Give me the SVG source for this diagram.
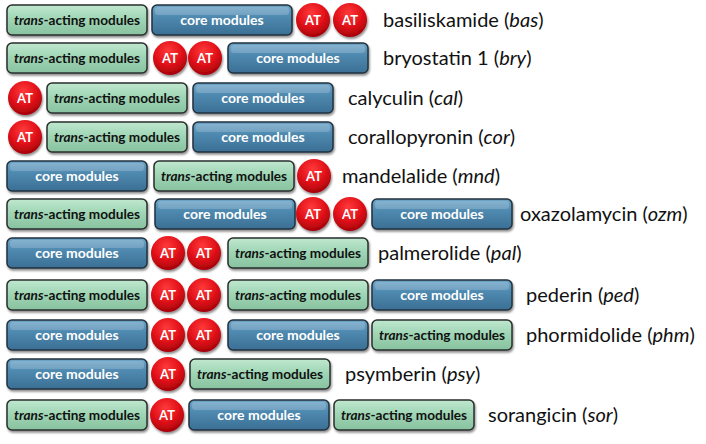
<svg xmlns="http://www.w3.org/2000/svg" width="706" height="444" viewBox="0 0 706 444">
<defs>
<linearGradient id="gGreen" x1="0" y1="0" x2="0" y2="1">
<stop offset="0" stop-color="#c0e8cf"/>
<stop offset="0.45" stop-color="#a0d6b6"/>
<stop offset="1" stop-color="#88c29f"/>
</linearGradient>
<linearGradient id="gBlue" x1="0" y1="0" x2="0" y2="1">
<stop offset="0" stop-color="#6fa6c8"/>
<stop offset="0.4" stop-color="#4f89b0"/>
<stop offset="1" stop-color="#3b6f94"/>
</linearGradient>
<radialGradient id="gRed" cx="0.45" cy="0.3" r="0.75">
<stop offset="0" stop-color="#ff3a3a"/>
<stop offset="0.55" stop-color="#e01018"/>
<stop offset="1" stop-color="#9a0008"/>
</radialGradient>
<filter id="sh" x="-10%" y="-20%" width="125%" height="160%">
<feDropShadow dx="1" dy="2" stdDeviation="1.3" flood-color="#000" flood-opacity="0.45"/>
</filter>
</defs>
<style>
.tr{fill:url(#gGreen);stroke:#2a2f2c;stroke-width:1.5;filter:url(#sh)}
.co{fill:url(#gBlue);stroke:#22323e;stroke-width:1.5;filter:url(#sh)}
.hl{fill:#ffffff;opacity:0.18}
.at{fill:url(#gRed);filter:url(#sh)}
.tt{font-family:Lato,"Liberation Sans",sans-serif;font-weight:bold;font-size:13.6px;fill:#111;text-anchor:middle}
.ct{font-family:Lato,"Liberation Sans",sans-serif;font-weight:bold;font-size:14px;fill:#ffffff;text-anchor:middle}
.att{font-family:Lato,"Liberation Sans",sans-serif;font-weight:bold;font-size:13px;fill:#ffffff;text-anchor:middle}
.lb{font-family:Lato,"Liberation Sans",sans-serif;font-size:20px;fill:#111}
.i{font-style:italic}
</style>

<!-- Row 1 -->
<g id="bas-trans" transform="translate(7,5)"><rect class="tr" width="140" height="30" rx="5"/><text class="tt" x="70" y="20"><tspan class="i">trans</tspan>-acting modules</text></g>
<g id="bas-core" transform="translate(152,5)"><rect class="co" width="140" height="30" rx="5"/><rect class="hl" x="3" y="2" width="134" height="8" rx="3"/><text class="ct" x="70" y="20">core modules</text></g>
<g id="bas-at1"><circle class="at" cx="313" cy="20" r="17"/><text class="att" x="313" y="25">AT</text></g>
<g id="bas-at2"><circle class="at" cx="350" cy="20" r="17"/><text class="att" x="350" y="25">AT</text></g>
<g id="bas-label"><text class="lb" x="383" y="27">basiliskamide (<tspan class="i">bas</tspan>)</text></g>

<!-- Row 2 -->
<g id="bry-trans" transform="translate(7,43)"><rect class="tr" width="140" height="30" rx="5"/><text class="tt" x="70" y="20"><tspan class="i">trans</tspan>-acting modules</text></g>
<g id="bry-at1"><circle class="at" cx="170" cy="58" r="17"/><text class="att" x="170" y="63">AT</text></g>
<g id="bry-at2"><circle class="at" cx="205" cy="58" r="17"/><text class="att" x="205" y="63">AT</text></g>
<g id="bry-core" transform="translate(228,43)"><rect class="co" width="140" height="30" rx="5"/><rect class="hl" x="3" y="2" width="134" height="8" rx="3"/><text class="ct" x="70" y="20">core modules</text></g>
<g id="bry-label"><text class="lb" x="383" y="65">bryostatin 1 (<tspan class="i">bry</tspan>)</text></g>

<!-- Row 3 -->
<g id="cal-at"><circle class="at" cx="25" cy="98" r="17"/><text class="att" x="25" y="103">AT</text></g>
<g id="cal-trans" transform="translate(47,83)"><rect class="tr" width="140" height="30" rx="5"/><text class="tt" x="70" y="20"><tspan class="i">trans</tspan>-acting modules</text></g>
<g id="cal-core" transform="translate(193,83)"><rect class="co" width="140" height="30" rx="5"/><rect class="hl" x="3" y="2" width="134" height="8" rx="3"/><text class="ct" x="70" y="20">core modules</text></g>
<g id="cal-label"><text class="lb" x="348" y="105">calyculin (<tspan class="i">cal</tspan>)</text></g>

<!-- Row 4 -->
<g id="cor-at"><circle class="at" cx="25" cy="137" r="17"/><text class="att" x="25" y="142">AT</text></g>
<g id="cor-trans" transform="translate(47,122)"><rect class="tr" width="140" height="30" rx="5"/><text class="tt" x="70" y="20"><tspan class="i">trans</tspan>-acting modules</text></g>
<g id="cor-core" transform="translate(193,122)"><rect class="co" width="140" height="30" rx="5"/><rect class="hl" x="3" y="2" width="134" height="8" rx="3"/><text class="ct" x="70" y="20">core modules</text></g>
<g id="cor-label"><text class="lb" x="348" y="144">corallopyronin (<tspan class="i">cor</tspan>)</text></g>

<!-- Row 5 -->
<g id="mnd-core" transform="translate(7,161)"><rect class="co" width="140" height="30" rx="5"/><rect class="hl" x="3" y="2" width="134" height="8" rx="3"/><text class="ct" x="70" y="20">core modules</text></g>
<g id="mnd-trans" transform="translate(154,161)"><rect class="tr" width="140" height="30" rx="5"/><text class="tt" x="70" y="20"><tspan class="i">trans</tspan>-acting modules</text></g>
<g id="mnd-at"><circle class="at" cx="314" cy="176" r="17"/><text class="att" x="314" y="181">AT</text></g>
<g id="mnd-label"><text class="lb" x="342" y="183">mandelalide (<tspan class="i">mnd</tspan>)</text></g>

<!-- Row 6 -->
<g id="ozm-trans" transform="translate(7,199)"><rect class="tr" width="140" height="30" rx="5"/><text class="tt" x="70" y="20"><tspan class="i">trans</tspan>-acting modules</text></g>
<g id="ozm-core1" transform="translate(155,199)"><rect class="co" width="140" height="30" rx="5"/><rect class="hl" x="3" y="2" width="134" height="8" rx="3"/><text class="ct" x="70" y="20">core modules</text></g>
<g id="ozm-at1"><circle class="at" cx="313" cy="214" r="17"/><text class="att" x="313" y="219">AT</text></g>
<g id="ozm-at2"><circle class="at" cx="350" cy="214" r="17"/><text class="att" x="350" y="219">AT</text></g>
<g id="ozm-core2" transform="translate(372,199)"><rect class="co" width="140" height="30" rx="5"/><rect class="hl" x="3" y="2" width="134" height="8" rx="3"/><text class="ct" x="70" y="20">core modules</text></g>
<g id="ozm-label"><text class="lb" x="520" y="221">oxazolamycin (<tspan class="i">ozm</tspan>)</text></g>

<!-- Row 7 -->
<g id="pal-core" transform="translate(7,238)"><rect class="co" width="140" height="30" rx="5"/><rect class="hl" x="3" y="2" width="134" height="8" rx="3"/><text class="ct" x="70" y="20">core modules</text></g>
<g id="pal-at1"><circle class="at" cx="168" cy="253" r="17"/><text class="att" x="168" y="258">AT</text></g>
<g id="pal-at2"><circle class="at" cx="204" cy="253" r="17"/><text class="att" x="204" y="258">AT</text></g>
<g id="pal-trans" transform="translate(228,238)"><rect class="tr" width="140" height="30" rx="5"/><text class="tt" x="70" y="20"><tspan class="i">trans</tspan>-acting modules</text></g>
<g id="pal-label"><text class="lb" x="378" y="260">palmerolide (<tspan class="i">pal</tspan>)</text></g>

<!-- Row 8 -->
<g id="ped-trans1" transform="translate(7,280)"><rect class="tr" width="140" height="30" rx="5"/><text class="tt" x="70" y="20"><tspan class="i">trans</tspan>-acting modules</text></g>
<g id="ped-at1"><circle class="at" cx="168" cy="295" r="17"/><text class="att" x="168" y="300">AT</text></g>
<g id="ped-at2"><circle class="at" cx="204" cy="295" r="17"/><text class="att" x="204" y="300">AT</text></g>
<g id="ped-trans2" transform="translate(228,280)"><rect class="tr" width="140" height="30" rx="5"/><text class="tt" x="70" y="20"><tspan class="i">trans</tspan>-acting modules</text></g>
<g id="ped-core" transform="translate(372,280)"><rect class="co" width="140" height="30" rx="5"/><rect class="hl" x="3" y="2" width="134" height="8" rx="3"/><text class="ct" x="70" y="20">core modules</text></g>
<g id="ped-label"><text class="lb" x="526" y="302">pederin (<tspan class="i">ped</tspan>)</text></g>

<!-- Row 9 -->
<g id="phm-core1" transform="translate(7,320)"><rect class="co" width="140" height="30" rx="5"/><rect class="hl" x="3" y="2" width="134" height="8" rx="3"/><text class="ct" x="70" y="20">core modules</text></g>
<g id="phm-at1"><circle class="at" cx="168" cy="335" r="17"/><text class="att" x="168" y="340">AT</text></g>
<g id="phm-at2"><circle class="at" cx="204" cy="335" r="17"/><text class="att" x="204" y="340">AT</text></g>
<g id="phm-core2" transform="translate(228,320)"><rect class="co" width="140" height="30" rx="5"/><rect class="hl" x="3" y="2" width="134" height="8" rx="3"/><text class="ct" x="70" y="20">core modules</text></g>
<g id="phm-trans" transform="translate(372,320)"><rect class="tr" width="140" height="30" rx="5"/><text class="tt" x="70" y="20"><tspan class="i">trans</tspan>-acting modules</text></g>
<g id="phm-label"><text class="lb" x="526" y="342">phormidolide (<tspan class="i">phm</tspan>)</text></g>

<!-- Row 10 -->
<g id="psy-core" transform="translate(7,359)"><rect class="co" width="140" height="30" rx="5"/><rect class="hl" x="3" y="2" width="134" height="8" rx="3"/><text class="ct" x="70" y="20">core modules</text></g>
<g id="psy-at"><circle class="at" cx="168" cy="374" r="17"/><text class="att" x="168" y="379">AT</text></g>
<g id="psy-trans" transform="translate(190,359)"><rect class="tr" width="140" height="30" rx="5"/><text class="tt" x="70" y="20"><tspan class="i">trans</tspan>-acting modules</text></g>
<g id="psy-label"><text class="lb" x="345" y="381">psymberin (<tspan class="i">psy</tspan>)</text></g>

<!-- Row 11 -->
<g id="sor-trans1" transform="translate(7,400)"><rect class="tr" width="140" height="30" rx="5"/><text class="tt" x="70" y="20"><tspan class="i">trans</tspan>-acting modules</text></g>
<g id="sor-at"><circle class="at" cx="167" cy="415" r="17"/><text class="att" x="167" y="420">AT</text></g>
<g id="sor-core" transform="translate(189,400)"><rect class="co" width="140" height="30" rx="5"/><rect class="hl" x="3" y="2" width="134" height="8" rx="3"/><text class="ct" x="70" y="20">core modules</text></g>
<g id="sor-trans2" transform="translate(334,400)"><rect class="tr" width="140" height="30" rx="5"/><text class="tt" x="70" y="20"><tspan class="i">trans</tspan>-acting modules</text></g>
<g id="sor-label"><text class="lb" x="488" y="422">sorangicin (<tspan class="i">sor</tspan>)</text></g>

<g id="connectors"></g>
</svg>
